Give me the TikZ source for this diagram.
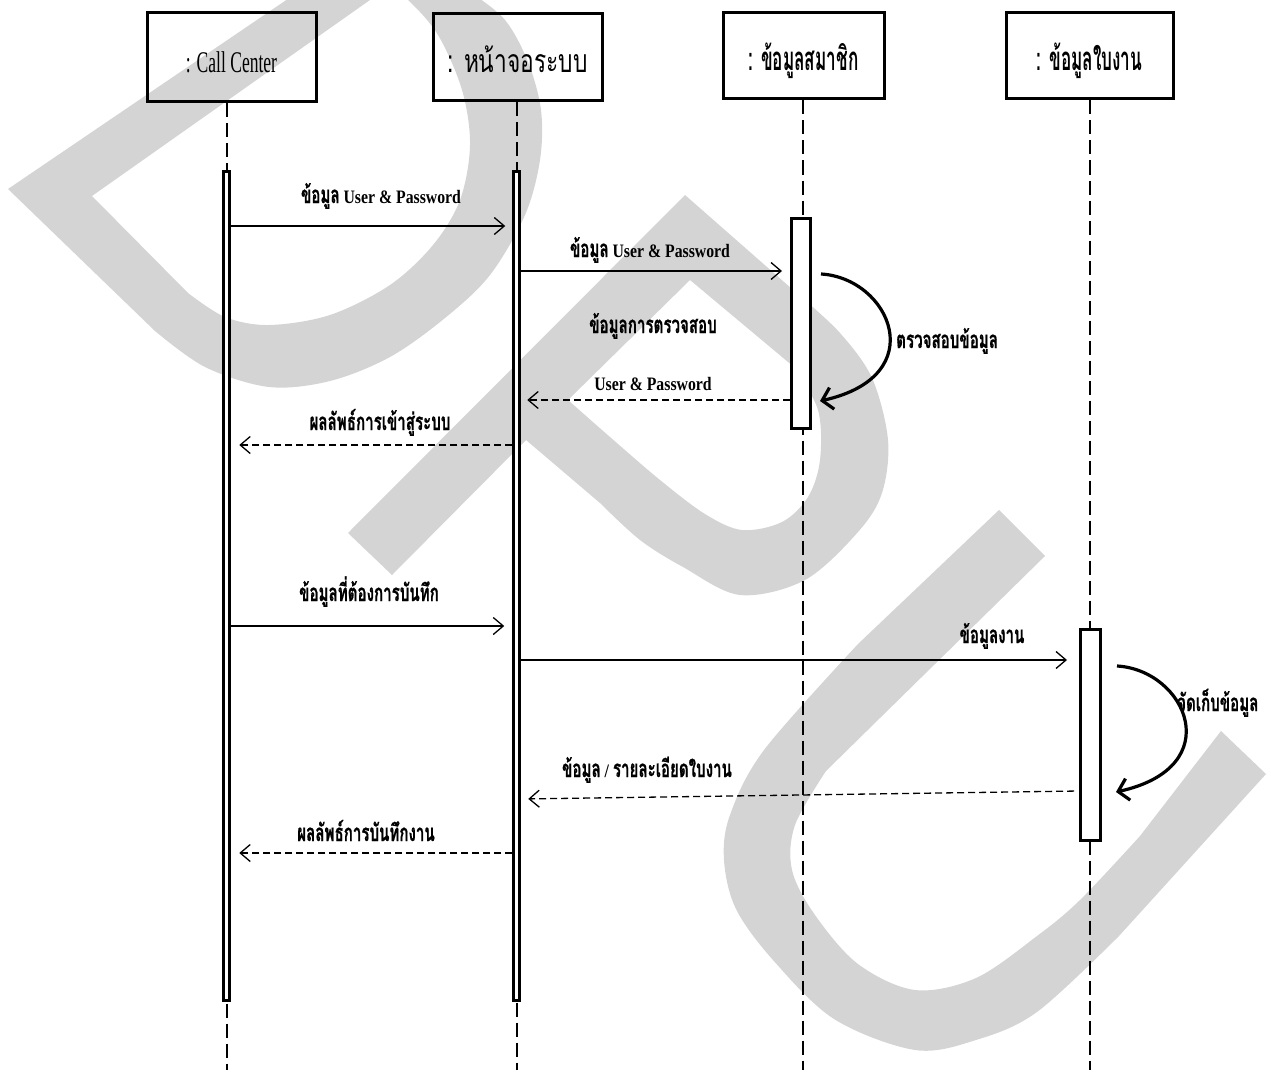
\documentclass[tikz,border=0pt]{standalone}
\usepackage{fontspec}
\setmainfont{Liberation Serif}
\newfontfamily\thaifont[Script=Thai,FakeStretch=0.63,FakeBold=0.6]{Loma}
\newfontfamily\thaiheadfont[Script=Thai,FakeStretch=0.71]{Loma}
\newfontfamily\thainarrowfont[Script=Thai,FakeStretch=0.52]{Loma}
\newfontfamily\latlabelfont[FakeStretch=0.83]{Liberation Serif}
\newfontfamily\latheadfont[FakeStretch=0.585]{Liberation Serif}
\usetikzlibrary{arrows.meta}
\definecolor{wmgray}{RGB}{212,212,212}

% text helpers: message labels and lifeline heads
\newcommand{\thlbl}[1]{{\thaifont\bfseries\fontsize{24}{26}\selectfont #1}}
\newcommand{\latlbl}[1]{{\latlabelfont\bfseries\fontsize{19}{21}\selectfont #1}}
\newcommand{\thhead}[1]{{\thaiheadfont\fontsize{32}{34}\selectfont #1}}
\newcommand{\thheadb}[1]{{\thainarrowfont\bfseries\fontsize{33}{35}\selectfont #1}}
\newcommand{\lathead}[1]{{\latheadfont\fontsize{30}{32}\selectfont #1}}

\begin{document}
\begin{tikzpicture}[x=1pt,y=-1pt,
  wm/.style={fill=wmgray,draw=none},
  head/.style={draw,line width=3pt,inner sep=0pt,text height=30pt,text depth=0pt},
  lifeline/.style={line width=1.1pt,dash pattern=on 14pt off 6pt},
  actbar/.style={draw,fill=white,line width=3pt,inner sep=0pt},
  msg/.style={line width=1.3pt,-{Straight Barb[length=10pt,width=17pt,line width=1.3pt]}},
  reply/.style={msg,dash pattern=on 7pt off 4pt},
  selfloop/.style={line width=3.2pt,-{Straight Barb[length=10pt,width=22pt,line width=3.2pt]}},
  lbl/.style={inner sep=0pt,anchor=base},
  lbll/.style={inner sep=0pt,anchor=base west}]

\useasboundingbox (0,0) rectangle (1269,1070);

% background watermark letters
\begin{scope}
\clip (0,0) rectangle (1269,1070);
% D
\fill[wm] (304,-12) -- (8,189) -- (155,331)
  -- plot[smooth,tension=0.55] coordinates {(155,331) (205,367) (269,387) (330,381) (390,357) (445,318) (490,275) (525,215) (540,160) (541,110) (528,62) (505,20) (470,-8) (455,-15)}
  -- (385,-15)
  -- plot[smooth,tension=0.55] coordinates {(385,-15) (408,0) (438,35) (462,90) (470,145) (460,200) (433,245) (390,285) (330,315) (269,325) (225,317) (188,293)}
  -- (92,196) -- (387,-12) -- cycle;
% P
\fill[wm,even odd rule] (392,575) -- (348,533) -- (685,195) -- (800,296)
  -- plot[smooth,tension=0.55] coordinates {(800,296) (840,333) (872,378) (888,440) (882,493) (858,532) (805,580) (740,595) (683,567) (640,540) (600,503)}
  -- (526,440) -- cycle
  (690,280) -- (568,400)
  -- plot[smooth,tension=0.55] coordinates {(568,400) (610,437) (660,480) (705,514) (742,530) (782,522) (808,497) (820,460) (818,410) (794,367)}
  -- cycle;
% U
\fill[wm] (999,510) -- (858,644)
  -- plot[smooth,tension=0.55] coordinates {(858,644) (764,750) (730,815) (724,860) (736,909) (773,960) (834,1019) (915,1050) (976,1040) (1037,1012) (1119,936)}
  -- (1266,774) -- (1221,731) -- (1140,836)
  -- plot[smooth,tension=0.55] coordinates {(1140,836) (1080,900) (1037,936) (976,978) (915,990) (858,964) (815,915) (792,870) (795,825) (826,771)}
  -- (1045,556) -- cycle;
\end{scope}

% lifeline heads
\node[head,minimum width=169pt,minimum height=89pt] (cc) at (231.5,57.5) {\lathead{: Call Center}};
\node[head,minimum width=169pt,minimum height=87pt] (hc) at (517.5,57.5) {\thhead{: หน้าจอระบบ}};
\node[head,minimum width=161pt,minimum height=86pt] (ms) at (803.5,56) {\thheadb{: ข้อมูลสมาชิก}};
\node[head,minimum width=167pt,minimum height=86pt] (jb) at (1089.5,56) {\thheadb{: ข้อมูลใบงาน}};

% lifelines
\coordinate (ccE) at (227,1075);
\coordinate (hcE) at (517,1075);
\coordinate (msE) at (803,1075);
\coordinate (jbE) at (1090,1075);
\draw[lifeline] (cc.south -| ccE) -- (ccE);
\draw[lifeline] (hc.south -| hcE) -- (hcE);
\draw[lifeline] (ms.south -| msE) -- (msE);
\draw[lifeline] (jb.south -| jbE) -- (jbE);

% activation bars
\node[actbar,minimum width=6pt,minimum height=829pt] (ccA) at (226.75,586) {};
\node[actbar,minimum width=6pt,minimum height=829pt] (hcA) at (516.75,586) {};
\node[actbar,minimum width=19pt,minimum height=210pt] (msA) at (801,323.5) {};
\node[actbar,minimum width=20pt,minimum height=211pt] (jbA) at (1090.5,735) {};

% message levels
\coordinate (y1) at (0,226);
\coordinate (y2) at (0,271);
\coordinate (y3) at (0,400);
\coordinate (y4) at (0,445);
\coordinate (y5) at (0,626);
\coordinate (y6) at (0,660);
\coordinate (y7a) at (0,791);
\coordinate (y7b) at (0,799);
\coordinate (y8) at (0,853);

% messages
\draw[msg,shorten >=7pt] (ccA.east |- y1) -- (hcA.west |- y1);
\draw[msg,shorten >=8pt] (hcA.east |- y2) -- (msA.west |- y2);
\draw[reply,shorten >=6pt] (msA.west |- y3) -- (hcA.east |- y3);
\draw[reply,shorten >=8pt] (hcA.west |- y4) -- (ccA.east |- y4);
\draw[msg,shorten >=8pt] (ccA.east |- y5) -- (hcA.west |- y5);
\draw[msg,shorten >=12pt] (hcA.east |- y6) -- (jbA.west |- y6);
\draw[reply,shorten <=5pt,shorten >=7pt] (jbA.west |- y7a) -- (hcA.east |- y7b);
\draw[reply,shorten >=8pt] (hcA.west |- y8) -- (ccA.east |- y8);

% self calls
\coordinate (l1s) at (821,274);
\coordinate (l1e) at (820,401);
\draw[selfloop] (l1s) .. controls +(69,4) and +(113,-25) .. (l1e);
\coordinate (l2s) at (1117,666);
\coordinate (l2e) at (1116,792);
\draw[selfloop] (l2s) .. controls +(69,4) and +(113,-25) .. (l2e);

% labels
\node[lbl] (t1) at (381,203) {\thlbl{ข้อมูล}\latlbl{ User \& Password}};
\node[lbl] (t2) at (650,257) {\thlbl{ข้อมูล}\latlbl{ User \& Password}};
\node[lbl] (t3) at (653,333) {\thlbl{ข้อมูลการตรวจสอบ}};
\node[lbl] (t4) at (653,390) {\latlbl{User \& Password}};
\node[lbl] (t5) at (380,430) {\thlbl{ผลลัพธ์การเข้าสู่ระบบ}};
\node[lbl] (t6) at (369,601) {\thlbl{ข้อมูลที่ต้องการบันทึก}};
\node[lbl] (t7) at (992,643) {\thlbl{ข้อมูลงาน}};
\node[lbl] (t8) at (647,777) {\thlbl{ข้อมูล}\latlbl{ / }\thlbl{รายละเอียดใบงาน}};
\node[lbl] (t9) at (366,841) {\thlbl{ผลลัพธ์การบันทึกงาน}};
\node[lbll] (t10) at (896,348) {\thlbl{ตรวจสอบข้อมูล}};
\node[lbll] (t11) at (1177,711) {\thlbl{จัดเก็บข้อมูล}};
\end{tikzpicture}
\end{document}
